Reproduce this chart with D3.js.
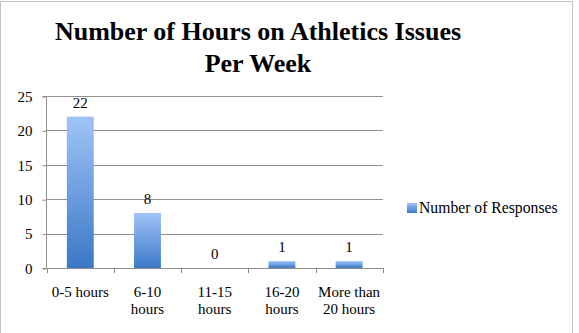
<!DOCTYPE html>
<html><head><meta charset="utf-8">
<script src="https://cdn.jsdelivr.net/npm/d3@7"></script>
<style>body{margin:0;background:#fff}svg{display:block}</style>
</head><body>
<svg id="c" width="579" height="333"></svg>
<script>
const categories = [["0-5 hours"], ["6-10", "hours"], ["11-15", "hours"], ["16-20", "hours"], ["More than", "20 hours"]];
const values = [22, 8, 0, 1, 1];
const yTicks = [0, 5, 10, 15, 20, 25];
const seriesName = "Number of Responses";
const titleLines = ["Number of Hours on Athletics Issues", "Per Week"];

const svg = d3.select("#c");
const font = "'Liberation Serif', 'DejaVu Serif', serif";
const defs = svg.append("defs");
const grad = defs.append("linearGradient").attr("id","g").attr("x1",0).attr("y1",0).attr("x2",0).attr("y2",1);
grad.append("stop").attr("offset","0%").attr("stop-color","#a0c4f8");
grad.append("stop").attr("offset","100%").attr("stop-color","#3b78c6");

// frame
svg.append("rect").attr("x",0.5).attr("y",1.5).attr("width",572).attr("height",340)
  .attr("fill","none").attr("stroke","#c4c4c4").attr("stroke-width",1);

const x = d3.scaleBand().domain(d3.range(values.length)).range([46.7, 382.7]).paddingInner(0.6).paddingOuter(0.3);
const y = d3.scaleLinear().domain([0, 25]).range([268, 96]);

// gridlines
svg.append("g").selectAll("line").data(yTicks.filter(d=>d>0)).join("line")
  .attr("x1",46.7).attr("x2",382.7).attr("y1",d=>Math.round(y(d))+0.5).attr("y2",d=>Math.round(y(d))+0.5)
  .attr("stroke","#8c8c8c").attr("stroke-width",1);

// y axis
const yAxis = d3.axisLeft(y).tickValues(yTicks).tickSize(4).tickPadding(10).tickFormat(d3.format("d"));
const gy = svg.append("g").attr("transform","translate(46.5,0.5)").call(yAxis);
gy.select(".domain").attr("stroke","#8c8c8c").attr("d","M-4,"+(y(25))+"H0V"+y(0)+"H-4");
gy.selectAll(".tick line").attr("stroke","#8c8c8c");
gy.selectAll("text").attr("font-family",font).attr("font-size",15).attr("fill","#000");

// x axis
const xEdges = d3.range(values.length+1).map(i => 46.7 + i*x.step());
svg.append("line").attr("x1",46.7).attr("x2",382.7).attr("y1",268.5).attr("y2",268.5).attr("stroke","#8c8c8c");
svg.append("g").selectAll("line").data(xEdges).join("line")
  .attr("x1",d=>Math.round(d)+0.5).attr("x2",d=>Math.round(d)+0.5).attr("y1",268).attr("y2",273)
  .attr("stroke","#8c8c8c");

// bars
svg.append("g").selectAll("rect").data(values).join("rect")
  .attr("x",(d,i)=>x(i)).attr("width",x.bandwidth())
  .attr("y",d=>y(d)).attr("height",d=>y(0)-y(d))
  .attr("fill","url(#g)");

// data labels
svg.append("g").selectAll("text").data(values).join("text")
  .attr("x",(d,i)=>x(i)+x.bandwidth()/2).attr("y",d=>y(d)-9)
  .attr("text-anchor","middle").attr("font-family",font).attr("font-size",15).attr("fill","#000")
  .text(d=>d);

// category labels
const cl = svg.append("g").selectAll("text").data(categories).join("text")
  .attr("x",(d,i)=>x(i)+x.bandwidth()/2).attr("y",297)
  .attr("text-anchor","middle").attr("font-family",font).attr("font-size",15).attr("fill","#000");
cl.selectAll("tspan").data(d=>d).join("tspan")
  .attr("x",function(){return this.parentNode.getAttribute("x");})
  .attr("dy",(d,i)=>i===0?0:17).text(d=>d);

// title
svg.append("g").selectAll("text").data(titleLines).join("text")
  .attr("x",258).attr("y",(d,i)=>40+i*32).attr("text-anchor","middle")
  .attr("font-family",font).attr("font-weight","bold").attr("font-size",26).attr("fill","#000")
  .text(d=>d);

// legend
svg.append("rect").attr("x",407).attr("y",203).attr("width",10).attr("height",10).attr("fill","url(#g)");
svg.append("text").attr("x",419).attr("y",213).attr("font-family",font).attr("font-size",15.7).attr("fill","#000").text(seriesName);
</script>
</body></html>
